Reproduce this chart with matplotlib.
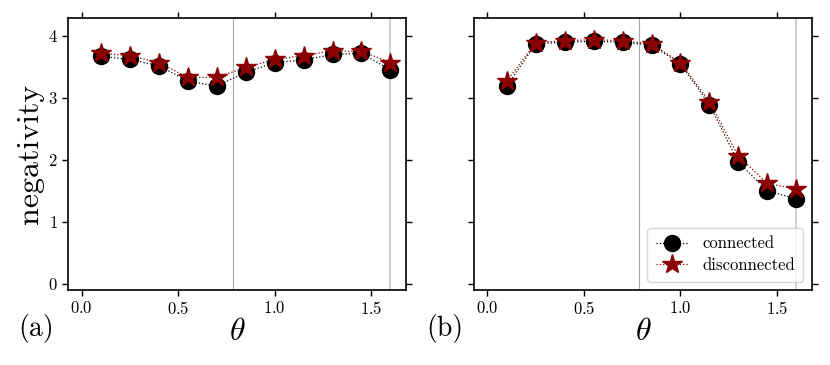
import numpy as np
import matplotlib
matplotlib.use("Agg")
import matplotlib.pyplot as plt

plt.rcParams["font.family"] = "serif"
plt.rcParams["font.serif"] = ["cmr10", "DejaVu Serif"]
plt.rcParams["mathtext.fontset"] = "cm"
plt.rcParams["axes.formatter.use_mathtext"] = True

theta = [0.1, 0.25, 0.4, 0.55, 0.7, 0.85, 1.0, 1.15, 1.3, 1.45, 1.6]

# panel (a)
conn_a = [3.67, 3.62, 3.52, 3.27, 3.19, 3.41, 3.57, 3.61, 3.70, 3.72, 3.45]
disc_a = [3.72, 3.68, 3.57, 3.33, 3.33, 3.49, 3.62, 3.68, 3.76, 3.75, 3.57]

# panel (b)
conn_b = [3.19, 3.87, 3.90, 3.91, 3.90, 3.85, 3.55, 2.89, 1.96, 1.50, 1.37]
disc_b = [3.27, 3.89, 3.92, 3.94, 3.92, 3.87, 3.57, 2.94, 2.06, 1.62, 1.53]

vlines = [np.pi / 4, 1.6]
panels = ["(a)", "(b)"]

fig = plt.figure(figsize=(8.3, 3.65), dpi=100)
ax1 = fig.add_axes([0.082, 0.2055, 0.407, 0.7455])
ax2 = fig.add_axes([0.571, 0.2055, 0.407, 0.7455])

for ax, c, d in [(ax1, conn_a, disc_a), (ax2, conn_b, disc_b)]:
    ax.axvline(vlines[0], color="#aaaaaa", lw=0.8, zorder=0)
    ax.axvline(vlines[1], color="#cccccc", lw=1.3, zorder=0)
    ax.plot(theta, c, ls=":", lw=0.9, color="black", marker="o", ms=11.5,
            label="connected")
    ax.plot(theta, d, ls=":", lw=0.9, color="#8b0000", marker="*", ms=15,
            label="disconnected")
    ax.set_xlim(-0.07, 1.68)
    ax.set_ylim(-0.1, 4.29)
    ax.set_xticks([0.0, 0.5, 1.0, 1.5])
    ax.set_yticks([0, 1, 2, 3, 4])
    ax.tick_params(direction="out", top=True, right=True, labelsize=12,
                   length=4, width=1.0)
    for s in ax.spines.values():
        s.set_linewidth(1.2)
    ax.set_xlabel(r"$\theta$", fontsize=23, labelpad=1)

ax1.set_ylabel("negativity", fontsize=23, labelpad=3)
ax2.tick_params(labelleft=False)

ax2.legend(loc="lower right", fontsize=12, framealpha=0.8, borderpad=0.5,
           handlelength=2.0, labelspacing=0.4)

fig.text(0.044, 0.10, panels[0], fontsize=20, ha="center", va="center")
fig.text(0.536, 0.10, panels[1], fontsize=20, ha="center", va="center")

fig.savefig("out.png", dpi=100)
